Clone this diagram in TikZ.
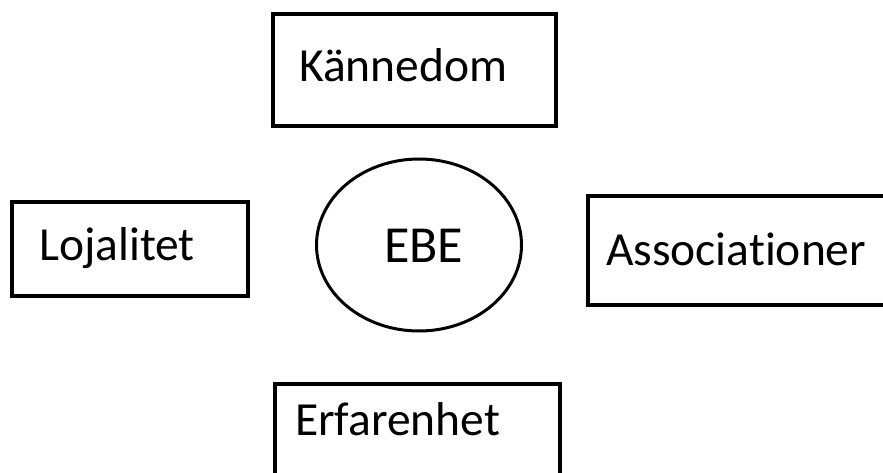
\documentclass[tikz,border=0pt]{standalone}
\usepackage{fontspec}
\setmainfont{Carlito}[Ligatures=NoCommon]
\usetikzlibrary{shapes.geometric}
\begin{document}
\begin{tikzpicture}[x=1pt,y=-1pt,
  box/.style={draw,line width=4pt,inner sep=0pt},
  lbl/.style={anchor=base west,inner sep=0pt,font=\fontsize{47.5}{51}\selectfont}]
\useasboundingbox (0,0) rectangle (883,473);
\clip (0,0) rectangle (883,473);
\fill[white] (0,0) rectangle (883,473);
% boxes
\node[box,minimum width=283pt,minimum height=112pt] (kb) at (414.5,70) {};
\node[box,minimum width=236.5pt,minimum height=93pt] (lb) at (129.75,249) {};
\node[box,minimum width=312.5pt,minimum height=108.5pt] (ab) at (743.75,250.25) {};
\node[box,minimum width=284.5pt,minimum height=106.5pt] (eb) at (417.25,436.75) {};
% ellipse
\node[draw,ellipse,line width=3pt,inner sep=0pt,minimum width=205pt,minimum height=172pt] (ebe) at (419,245) {};
% labels
\node[lbl] (kt) at (299,82) {Kännedom};
\node[lbl] (lt) at (39,260) {Lojalitet};
\node[lbl] (at) at (606,265) {Associationer};
\node[lbl] (et) at (295,435) {Erfarenhet};
\node[lbl,font=\fontsize{52}{56}\selectfont] (ebet) at (384,262) {EBE};
\end{tikzpicture}
\end{document}
